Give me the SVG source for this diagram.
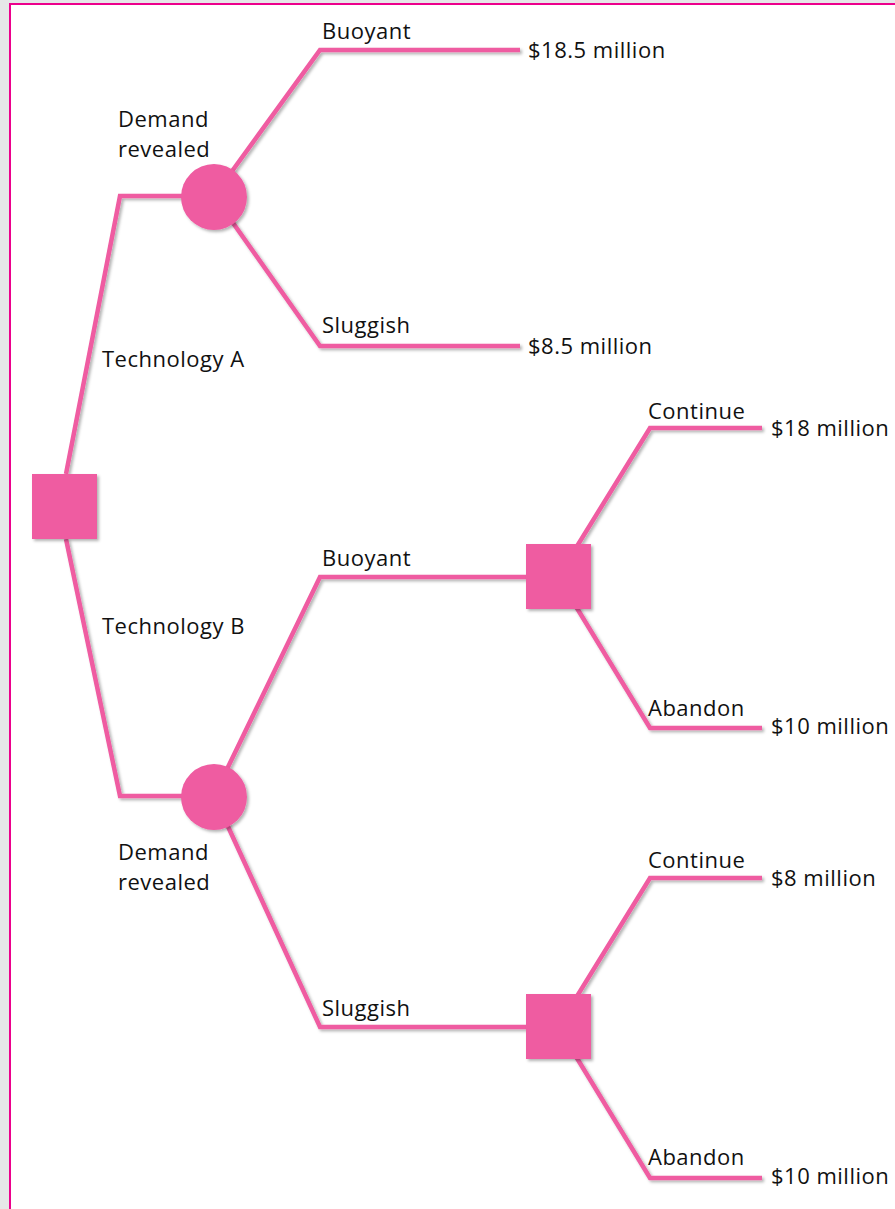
<svg xmlns="http://www.w3.org/2000/svg" width="895" height="1209" viewBox="0 0 895 1209">
<defs>
<filter id="sh" x="-20%" y="-20%" width="140%" height="140%">
<feDropShadow dx="2" dy="2" stdDeviation="1.5" flood-color="#000" flood-opacity="0.3"/>
</filter>
<style>
.ln{fill:none;stroke:#ef5ba1;stroke-width:4.5;stroke-linejoin:miter}
.nd{fill:#ef5ba1}
text{font-family:"Open Sans","Noto Sans",sans-serif;font-size:22px;letter-spacing:0.5px;fill:#111}
</style>
</defs>
<rect width="895" height="1209" fill="#e6e7e8"/>
<rect x="10" y="4" width="900" height="1220" fill="#fff" stroke="#ec008c" stroke-width="2"/>
<g id="connectors" filter="url(#sh)">
<polyline class="ln" points="66,474 120,196 214,196"/>
<polyline class="ln" points="214,196 320,50 520,50"/>
<polyline class="ln" points="214,196 320,346 520,346"/>
<polyline class="ln" points="66,539 120,796 214,796"/>
<polyline class="ln" points="214,796 320,577 558,577"/>
<polyline class="ln" points="214,796 320,1027 558,1027"/>
<polyline class="ln" points="558,577 650,428 762,428"/>
<polyline class="ln" points="558,577 650,728 762,728"/>
<polyline class="ln" points="558,1027 650,878 762,878"/>
<polyline class="ln" points="558,1027 650,1178 762,1178"/>
</g>
<g id="root" filter="url(#sh)"><rect class="nd" x="32" y="474" width="65" height="65"/></g>
<g id="chanceA" filter="url(#sh)"><circle class="nd" cx="214" cy="197" r="33"/></g>
<g id="chanceB" filter="url(#sh)"><circle class="nd" cx="214" cy="797" r="33"/></g>
<g id="decB1" filter="url(#sh)"><rect class="nd" x="526" y="544" width="65" height="65"/></g>
<g id="decB2" filter="url(#sh)"><rect class="nd" x="526" y="994" width="65" height="65"/></g>
<g id="labels">
<text x="118" y="127">Demand</text>
<text x="118" y="157">revealed</text>
<text x="322" y="39">Buoyant</text>
<text x="528" y="58">$18.5 million</text>
<text x="322" y="333">Sluggish</text>
<text x="528" y="354">$8.5 million</text>
<text x="102" y="367">Technology A</text>
<text x="102" y="634">Technology B</text>
<text x="322" y="566">Buoyant</text>
<text x="648" y="419">Continue</text>
<text x="771" y="436">$18 million</text>
<text x="648" y="716">Abandon</text>
<text x="771" y="734">$10 million</text>
<text x="118" y="860">Demand</text>
<text x="118" y="890">revealed</text>
<text x="322" y="1016">Sluggish</text>
<text x="648" y="868">Continue</text>
<text x="771" y="886">$8 million</text>
<text x="648" y="1165">Abandon</text>
<text x="771" y="1184">$10 million</text>
</g>
</svg>
